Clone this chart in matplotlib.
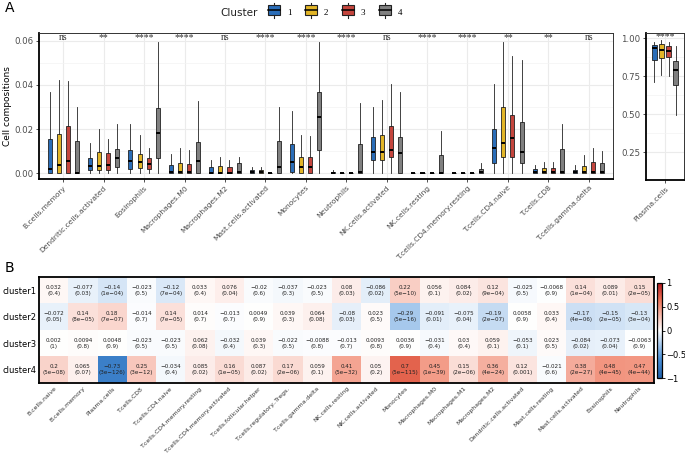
import numpy as np
import matplotlib
matplotlib.use("Agg")
import matplotlib.pyplot as plt
from matplotlib.colors import LinearSegmentedColormap
from matplotlib.patches import Rectangle, Patch
from matplotlib.lines import Line2D
from matplotlib.legend_handler import HandlerBase
from matplotlib.ticker import FormatStrFormatter

# ---- panel A: box plot data (rows = cell types, cols = cluster 1..4) ----
cell_types = ["B.cells.memory", "Dendritic.cells.activated", "Eosinophils",
              "Macrophages.M0", "Macrophages.M2", "Mast.cells.activated",
              "Monocytes", "Neutrophils", "NK.cells.activated", "NK.cells.resting",
              "T.cells.CD4.memory.resting", "T.cells.CD4.naive", "T.cells.CD8",
              "T.cells.gamma.delta"]
signif = ["ns", "**", "****", "****", "ns", "****", "****", "****", "ns",
          "****", "****", "**", "**", "ns"]

box_q1 = [[0, 0, 0, 0],
          [0.0014, 0.0012, 0.0014, 0.0026],
          [0.0020, 0.0023, 0.0018, 0.0070],
          [0, 0, 0, 0],
          [0, 0, 0, 0],
          [0, 0, 0, 0],
          [0.0005, 0.0002, 0.0002, 0.0106],
          [0, 0, 0, 0],
          [0.0059, 0.0059, 0.0071, 0.0002],
          [0, 0, 0, 0],
          [0, 0, 0, 0],
          [0.0047, 0.0073, 0.0074, 0.0044],
          [0.0002, 0.0002, 0.0002, 0.0002],
          [0, 0, 0, 0]]
box_med = [[0.0017, 0.0036, 0.0056, 0.0002],
           [0.0033, 0.0033, 0.0038, 0.0068],
           [0.0053, 0.0049, 0.0039, 0.0183],
           [0.0003, 0.0003, 0.0003, 0.0053],
           [0.0002, 0.0002, 0.0002, 0.0005],
           [0.0005, 0.0006, 0, 0.0029],
           [0.0049, 0.0029, 0.0029, 0.0256],
           [0.0002, 0, 0, 0.0003],
           [0.0095, 0.0094, 0.0105, 0.0089],
           [0, 0, 0, 0.0001],
           [0, 0, 0, 0.0003],
           [0.0114, 0.0136, 0.0159, 0.0097],
           [0.0005, 0.0006, 0.0006, 0.0007],
           [0.0004, 0.0003, 0.0006, 0.0005]]
box_q3 = [[0.0153, 0.0176, 0.0212, 0.0144],
          [0.0067, 0.0094, 0.0092, 0.0108],
          [0.0105, 0.0085, 0.0068, 0.0297],
          [0.0036, 0.0047, 0.0042, 0.0140],
          [0.0027, 0.0031, 0.0027, 0.0047],
          [0.0012, 0.0014, 0, 0.0145],
          [0.0132, 0.0073, 0.0071, 0.0370],
          [0.0006, 0, 0, 0.0132],
          [0.0162, 0.0173, 0.0212, 0.0165],
          [0, 0, 0, 0.0082],
          [0, 0, 0, 0.0020],
          [0.0199, 0.0300, 0.0264, 0.0233],
          [0.0017, 0.0021, 0.0021, 0.0109],
          [0.0014, 0.0033, 0.0050, 0.0044]]
whisk_lo = [[0, 0, 0, 0] for _ in cell_types]
whisk_hi = [[0.0367, 0.0423, 0.0418, 0.0300],
            [0.0135, 0.0199, 0.0156, 0.0221],
            [0.0223, 0.0174, 0.0114, 0.0597],
            [0.0086, 0.0115, 0.0104, 0.0327],
            [0.0058, 0.0074, 0.0058, 0.0074],
            [0.0026, 0.0027, 0, 0.0300],
            [0.0282, 0.0174, 0.0167, 0.0597],
            [0.0013, 0, 0, 0.0320],
            [0.0300, 0.0332, 0.0405, 0.0368],
            [0, 0, 0, 0.0192],
            [0, 0, 0, 0.0044],
            [0.0403, 0.0597, 0.0533, 0.0514],
            [0.0036, 0.0051, 0.0050, 0.0223],
            [0.0036, 0.0080, 0.0114, 0.0100]]

# plasma cells get their own panel
plasma_q1 = [0.855, 0.870, 0.872, 0.691]
plasma_med = [0.932, 0.921, 0.917, 0.792]
plasma_q3 = [0.954, 0.961, 0.950, 0.849]
plasma_lo = [0.713, 0.757, 0.750, 0.493]
plasma_hi = [0.976, 0.987, 0.974, 0.947]
plasma_signif = "****"

clusters = ["1", "2", "3", "4"]
cl_colors = ["#2A6DB8", "#E2B527", "#C4453D", "#808080"]

# ---- panel B: correlation heatmap ----
hm_cols = ["B.cells.naive", "B.cells.memory", "Plasma.cells", "T.cells.CD8",
           "T.cells.CD4.naive", "T.cells.CD4.memory.resting",
           "T.cells.CD4.memory.activated", "T.cells.follicular.helper",
           "T.cells.regulatory..Tregs.", "T.cells.gamma.delta", "NK.cells.resting",
           "NK.cells.activated", "Monocytes", "Macrophages.M0", "Macrophages.M1",
           "Macrophages.M2", "Dendritic.cells.activated", "Mast.cells.resting",
           "Mast.cells.activated", "Eosinophils", "Neutrophils"]
hm_rows = ["cluster1", "cluster2", "cluster3", "cluster4"]

r_c1 = [0.032, -0.077, -0.14, -0.023, -0.12, 0.033, 0.076, -0.02, -0.037, -0.023, 0.08,
        -0.086, 0.22, 0.056, 0.084, 0.12, -0.025, -0.0068, 0.14, 0.089, 0.15]
r_c2 = [-0.072, 0.14, 0.18, -0.014, 0.14, 0.014, -0.013, 0.0049, 0.039, 0.064, -0.08,
        0.023, -0.29, -0.091, -0.075, -0.19, 0.0058, 0.033, -0.17, -0.15, -0.13]
r_c3 = [0.002, 0.0094, 0.0048, -0.023, -0.023, 0.062, -0.032, 0.039, -0.022, -0.0088,
        -0.013, 0.0093, 0.0036, -0.031, 0.03, 0.059, -0.053, 0.023, -0.084, -0.073, -0.0063]
r_c4 = [0.2, 0.065, -0.73, 0.25, -0.034, 0.085, 0.16, 0.087, 0.17, 0.059, 0.41, 0.05,
        0.7, 0.45, 0.15, 0.36, 0.12, -0.021, 0.38, 0.48, 0.47]
p_c1 = ["0.4", "0.03", "1e-04", "0.5", "7e-04", "0.4", "0.04", "0.6", "0.3", "0.5", "0.03",
        "0.02", "5e-10", "0.1", "0.02", "9e-04", "0.5", "0.9", "1e-04", "0.01", "2e-05"]
p_c2 = ["0.05", "8e-05", "7e-07", "0.7", "7e-05", "0.7", "0.7", "0.9", "0.3", "0.08", "0.03",
        "0.5", "5e-16", "0.01", "0.04", "2e-07", "0.9", "0.4", "4e-06", "2e-05", "3e-04"]
p_c3 = ["1", "0.8", "0.9", "0.5", "0.5", "0.08", "0.4", "0.3", "0.5", "0.8", "0.7",
        "0.8", "0.9", "0.4", "0.4", "0.1", "0.1", "0.5", "0.02", "0.04", "0.9"]
p_c4 = ["5e-08", "0.07", "3e-126", "3e-12", "0.4", "0.02", "1e-05", "0.02", "2e-06", "0.1",
        "5e-32", "0.2", "5e-115", "1e-39", "2e-06", "4e-24", "0.001", "0.6", "2e-27",
        "4e-45", "4e-44"]

W, H = 685, 453
fig = plt.figure(figsize=(W / 100, H / 100), dpi=100)


def px_axes(x0, y0, x1, y1):
    # axes placed by pixel box (top-left origin)
    return fig.add_axes([x0 / W, 1 - y1 / H, (x1 - x0) / W, (y1 - y0) / H])


def style_box_axes(ax):
    for s in ax.spines.values():
        s.set_color("#333333")
        s.set_linewidth(0.7)
    ax.spines["left"].set_linewidth(1.3)
    ax.spines["left"].set_color("black")
    ax.spines["bottom"].set_linewidth(1.3)
    ax.spines["bottom"].set_color("black")
    ax.grid(which="major", color="#EBEBEB", lw=0.8)
    ax.grid(which="minor", axis="y", color="#F3F3F3", lw=0.5)
    ax.set_axisbelow(True)
    ax.tick_params(which="major", length=2.5, width=0.6, color="#333333",
                   labelsize=6.2, labelcolor="#4D4D4D", pad=1.5)
    ax.tick_params(axis="x", labelsize=5.4)
    ax.tick_params(which="minor", length=0)
    ax.yaxis.set_major_formatter(FormatStrFormatter("%.2f"))


offsets = [-0.3375, -0.1125, 0.1125, 0.3375]
serif = "Liberation Serif"

# ---------------- A: main box panel ----------------
ax = px_axes(39, 33, 613, 179)
xpos = np.arange(1, len(cell_types) + 1)
for j in range(4):
    stats = [dict(med=box_med[i][j], q1=box_q1[i][j], q3=box_q3[i][j],
                  whislo=whisk_lo[i][j], whishi=whisk_hi[i][j]) for i in range(len(cell_types))]
    ax.bxp(stats, positions=xpos + offsets[j], widths=0.1, patch_artist=True,
           showfliers=False, showcaps=False, manage_ticks=False,
           boxprops=dict(facecolor=cl_colors[j], edgecolor="#222222", lw=0.6),
           medianprops=dict(color="black", lw=1.4),
           whiskerprops=dict(color="#222222", lw=0.6))
ax.set_xlim(0.4, len(cell_types) + 0.6)
ax.set_ylim(-0.0027, 0.0636)
ax.set_yticks([0, 0.02, 0.04, 0.06])
ax.set_yticks([0.01, 0.03, 0.05], minor=True)
ax.set_xticks(xpos)
ax.set_xticklabels(cell_types, rotation=45, ha="right", rotation_mode="anchor")
style_box_axes(ax)
fig.text(8 / W, 1 - 106 / H, "Cell compositions", rotation=90, fontsize=6.5,
         ha="center", va="center")
for i, s in enumerate(signif):
    ax.text(xpos[i], 0.0616, s, ha="center", va="center", fontsize=7,
            family=serif, color="#333333")

# ---------------- A: plasma cells panel ----------------
ax2 = px_axes(646, 33, 684, 180)
for j in range(4):
    st = [dict(med=plasma_med[j], q1=plasma_q1[j], q3=plasma_q3[j],
               whislo=plasma_lo[j], whishi=plasma_hi[j])]
    ax2.bxp(st, positions=[1 + offsets[j]], widths=0.16, patch_artist=True,
            showfliers=False, showcaps=False, manage_ticks=False,
            boxprops=dict(facecolor=cl_colors[j], edgecolor="#222222", lw=0.6),
            medianprops=dict(color="black", lw=1.4),
            whiskerprops=dict(color="#222222", lw=0.6))
ax2.set_xlim(0.4, 1.6)
ax2.set_ylim(0.066, 1.033)
ax2.set_yticks([0.25, 0.5, 0.75, 1.0])
ax2.set_yticks([0.375, 0.625, 0.875], minor=True)
ax2.set_xticks([1])
ax2.set_xticklabels(["Plasma.cells"], rotation=45, ha="right", rotation_mode="anchor")
style_box_axes(ax2)
ax2.text(1, 1.012, plasma_signif, ha="center", va="center", fontsize=7,
         family=serif, color="#333333")


# legend with box-shaped keys (sizes in points around the key centre)
class BoxKey(HandlerBase):
    def create_artists(self, legend, orig, xd, yd, w, h, fontsize, trans):
        xc, yc = xd + w / 2, yd + h / 2
        bh, wh = 3.3, 5.4
        box = Rectangle((xd, yc - bh), w, 2 * bh, facecolor=orig.get_facecolor(),
                        edgecolor="#222222", lw=0.8, transform=trans)
        med = Line2D([xd, xd + w], [yc, yc], color="black", lw=1.1, transform=trans)
        lo = Line2D([xc, xc], [yc - wh, yc - bh], color="#222222", lw=0.8, transform=trans)
        hi = Line2D([xc, xc], [yc + bh, yc + wh], color="#222222", lw=0.8, transform=trans)
        return [box, med, lo, hi]


handles = [Patch(facecolor=c) for c in cl_colors]
fig.legend(handles, clusters, loc="center left", bbox_to_anchor=(268 / W, 1 - 12.5 / H),
           ncol=4, frameon=False, handler_map={Patch: BoxKey()},
           prop={"family": serif, "size": 6.5}, handlelength=1.3, handleheight=1.0,
           handletextpad=0.8, columnspacing=1.5, borderpad=0, borderaxespad=0)
fig.text(220 / W, 1 - 12.5 / H, "Cluster", fontsize=7.5, va="center", ha="left", color="#222222")

# ---------------- B: heatmap ----------------
r_mat = np.array([r_c1, r_c2, r_c3, r_c4])
p_mat = [p_c1, p_c2, p_c3, p_c4]
cmap = LinearSegmentedColormap.from_list(
    "corr", [(0, "#1F5FA8"), (0.2, "#4A90D9"), (0.5, "#FFFFFF"),
             (0.82, "#EE7357"), (1, "#B3191F")])

hx = px_axes(39, 277, 654, 383)
im = hx.imshow(r_mat, cmap=cmap, vmin=-1, vmax=1, aspect="auto", interpolation="nearest")
for i in range(r_mat.shape[0]):
    for j in range(r_mat.shape[1]):
        rv = f"{r_mat[i, j]:g}".replace("-", "\u2212")
        pv = p_mat[i][j].replace("-", "\u2212")
        hx.text(j, i, f"{rv}\n({pv})", ha="center", va="center", fontsize=4.1,
                color="#222222", linespacing=1.35)
hx.set_xticks(np.arange(len(hm_cols)))
hx.set_xticklabels(hm_cols, rotation=45, ha="right", rotation_mode="anchor",
                   fontsize=4.4, color="#333333")
hx.set_yticks(np.arange(len(hm_rows)))
hx.set_yticklabels(hm_rows, fontsize=6)
hx.tick_params(length=0, pad=2)
for s in hx.spines.values():
    s.set_linewidth(1.3)
    s.set_color("black")

cax = px_axes(657, 283, 662, 378)
cb = fig.colorbar(im, cax=cax, ticks=[-1, -0.5, 0, 0.5, 1])
cb.ax.set_yticklabels(["\u22121", "\u22120.5", "0", "0.5", "1"])
cb.ax.tick_params(labelsize=6, length=2, width=0.6, pad=1)
cb.outline.set_linewidth(0.9)
cb.outline.set_edgecolor("black")

fig.text(5 / W, 1 - 8 / H, "A", fontsize=10, va="center")
fig.text(5 / W, 1 - 268 / H, "B", fontsize=10, va="center")

fig.savefig("out.png", dpi=100)
